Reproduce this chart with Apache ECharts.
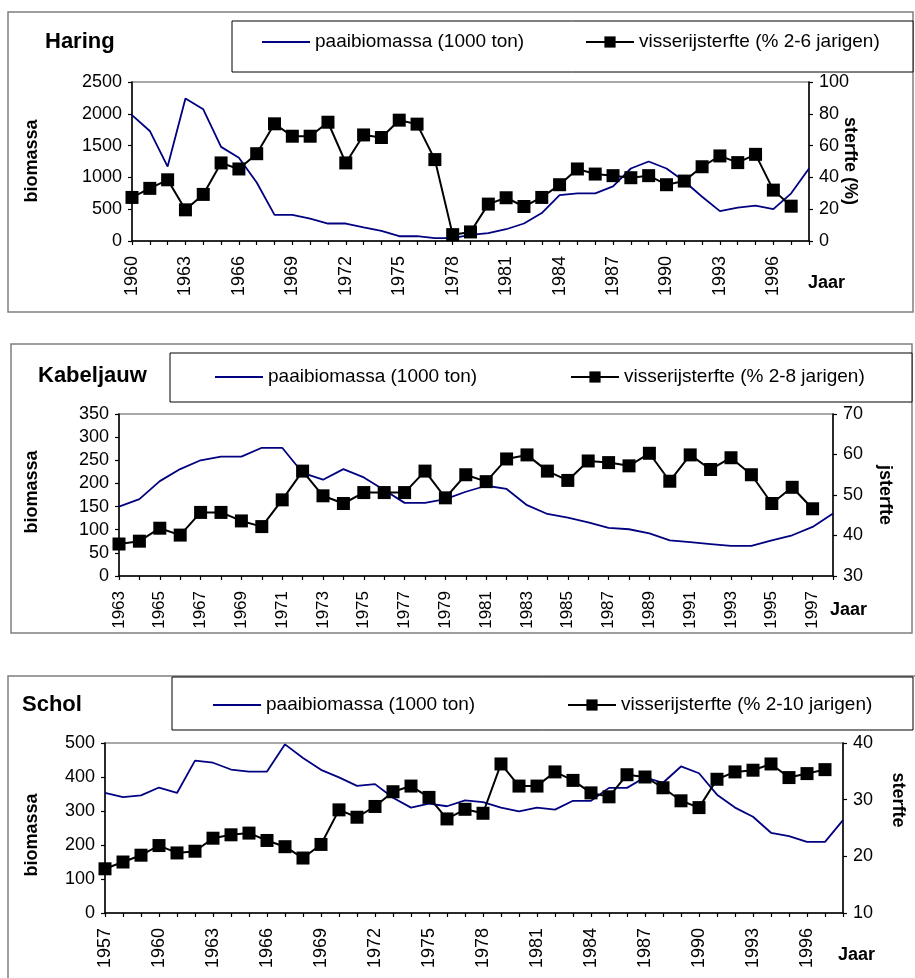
<!DOCTYPE html>
<html>
<head>
<meta charset="utf-8">
<script src="https://cdn.jsdelivr.net/npm/echarts@6/dist/echarts.min.js"></script>
<style>
  html, body { margin: 0; padding: 0; background: #fff; }
  #chart { width: 915px; height: 978px; }
</style>
</head>
<body>
<div id="chart"></div>
<script>
// Year ranges per species
const haringYears = [];
for (let y = 1960; y <= 1998; y++) haringYears.push(String(y));
const kabeljauwYears = [];
for (let y = 1963; y <= 1998; y++) kabeljauwYears.push(String(y));
const scholYears = [];
for (let y = 1957; y <= 1998; y++) scholYears.push(String(y));

// Haring: spawning stock biomass (1000 ton) and fishing mortality (%)
const haringBiomassa = [1980, 1730, 1170, 2240, 2070, 1480, 1310, 920, 410, 410,
  350, 275, 275, 215, 160, 75, 75, 45, 45, 95,
  125, 185, 275, 440, 720, 750, 750, 860, 1140, 1250,
  1140, 940, 695, 470, 525, 555, 500, 750, 1140];
const haringSterfte = [27.4, 33.1, 38.5, 19.6, 29.3, 49.1, 45.3, 54.9, 73.7, 65.9,
  65.9, 74.7, 49.1, 66.7, 65.1, 76.0, 73.5, 51.2, 4.0, 5.7,
  23.2, 27.2, 21.7, 27.4, 35.4, 45.3, 42.1, 41.1, 39.8, 41.1,
  35.4, 37.7, 46.7, 53.5, 49.3, 54.5, 32.0, 21.9, null];

// Kabeljauw
const kabeljauwBiomassa = [150, 166, 205, 231, 250, 258, 258, 277, 277, 223,
  208, 231, 213, 186, 158, 158, 166, 182, 195, 188,
  153, 134, 126, 116, 104, 101, 92, 77, 73, 69,
  65, 65, 77, 88, 106, 135];
const kabeljauwSterfte = [37.9, 38.6, 41.8, 40.1, 45.7, 45.7, 43.6, 42.2, 48.8, 55.9,
  49.8, 47.9, 50.6, 50.6, 50.6, 55.9, 49.3, 55.0, 53.3, 58.9,
  59.9, 55.9, 53.6, 58.4, 58.0, 57.2, 60.3, 53.4, 59.9, 56.3,
  59.2, 55.0, 47.9, 51.9, 46.6, null];

// Schol
const scholBiomassa = [353, 341, 346, 369, 353, 448, 442, 422, 416, 416,
  496, 456, 421, 399, 374, 379, 339, 310, 322, 314,
  331, 326, 310, 299, 310, 304, 330, 330, 368, 368,
  399, 383, 431, 411, 348, 310, 283, 236, 226, 209,
  209, 273];
const scholSterfte = [17.8, 19.0, 20.2, 21.9, 20.6, 20.9, 23.2, 23.8, 24.1, 22.8,
  21.7, 19.7, 22.1, 28.2, 26.9, 28.8, 31.4, 32.4, 30.4, 26.6,
  28.3, 27.6, 36.3, 32.4, 32.4, 34.9, 33.4, 31.2, 30.5, 34.4,
  34.0, 32.1, 29.8, 28.6, 33.6, 34.9, 35.2, 36.3, 33.9, 34.6,
  35.3, null];

const BIO_NAME = 'paaibiomassa (1000 ton)';
const FONT = '"Liberation Sans", Arial, sans-serif';
const NAVY = '#000080';

// Panel layout: frame, legend box, plot grid, label positions
const panels = [
  {
    title: 'Haring', titleX: 45, titleY: 42,
    frame: [8, 12, 905, 300], legendBox: [232, 21, 681, 51], legendY: 32,
    bioLegendX: 262, morLegendX: 585,
    grid: { left: 132, top: 82, width: 677, height: 159 },
    years: haringYears, bio: haringBiomassa, mor: haringSterfte,
    morName: 'visserijsterfte (% 2-6 jarigen)',
    left: { min: 0, max: 2500, interval: 500 },
    right: { min: 0, max: 100, interval: 20 },
    labelInterval: 2, xFont: 18,
    leftName: 'biomassa', leftNameX: 32, leftNameY: 161,
    rightName: 'sterfte (%)', rightNameX: 850, rightNameY: 161,
    jaarX: 808, jaarY: 283
  },
  {
    title: 'Kabeljauw', titleX: 38, titleY: 376,
    frame: [11, 344, 901, 289], legendBox: [170, 353, 742, 49], legendY: 367,
    bioLegendX: 215, morLegendX: 570,
    grid: { left: 119, top: 414, width: 714, height: 162 },
    years: kabeljauwYears, bio: kabeljauwBiomassa, mor: kabeljauwSterfte,
    morName: 'visserijsterfte (% 2-8 jarigen)',
    left: { min: 0, max: 350, interval: 50 },
    right: { min: 30, max: 70, interval: 10 },
    labelInterval: 1, xFont: 17,
    leftName: 'biomassa', leftNameX: 32, leftNameY: 492,
    rightName: 'jsterfte', rightNameX: 885, rightNameY: 495,
    jaarX: 830, jaarY: 610
  },
  {
    title: 'Schol', titleX: 22, titleY: 705,
    frame: [8, 676, 910, 320], legendBox: [172, 677, 741, 53], legendY: 695,
    bioLegendX: 213, morLegendX: 567,
    grid: { left: 105, top: 743, width: 738, height: 170 },
    years: scholYears, bio: scholBiomassa, mor: scholSterfte,
    morName: 'visserijsterfte (% 2-10 jarigen)',
    left: { min: 0, max: 500, interval: 100 },
    right: { min: 10, max: 40, interval: 10 },
    labelInterval: 2, xFont: 18,
    leftName: 'biomassa', leftNameX: 32, leftNameY: 835,
    rightName: 'sterfte', rightNameX: 898, rightNameY: 800,
    jaarX: 838, jaarY: 955
  }
];

const grid = [], xAxis = [], yAxis = [], series = [], legend = [], graphic = [];
const axisLine = { show: true, lineStyle: { color: '#000', width: 1.5 } };
const axisTick = { show: true, length: 4, lineStyle: { color: '#000', width: 1.2 } };
const plainNumber = v => String(v);

panels.forEach((p, i) => {
  grid.push(Object.assign({ show: true, borderColor: '#8c8c8c', borderWidth: 1.5,
    backgroundColor: 'transparent', containLabel: false }, p.grid));

  xAxis.push({
    type: 'category', gridIndex: i, data: p.years, boundaryGap: false,
    axisLine, axisTick: Object.assign({ interval: 0 }, axisTick),
    axisLabel: { rotate: 90, interval: p.labelInterval, margin: 15,
      color: '#000', fontSize: p.xFont, fontFamily: FONT },
    splitLine: { show: false }
  });

  yAxis.push({
    type: 'value', gridIndex: i, position: 'left',
    min: p.left.min, max: p.left.max, interval: p.left.interval,
    axisLine, axisTick,
    axisLabel: { color: '#000', fontSize: 18, fontFamily: FONT, margin: 10, formatter: plainNumber },
    splitLine: { show: false }
  });
  yAxis.push({
    type: 'value', gridIndex: i, position: 'right',
    min: p.right.min, max: p.right.max, interval: p.right.interval,
    axisLine, axisTick,
    axisLabel: { color: '#000', fontSize: 18, fontFamily: FONT, margin: 10, formatter: plainNumber },
    splitLine: { show: false }
  });

  series.push({
    name: BIO_NAME, type: 'line', xAxisIndex: i, yAxisIndex: 2 * i,
    data: p.bio, symbol: 'none', lineStyle: { color: NAVY, width: 1.8 },
    itemStyle: { color: NAVY }, z: 2, animation: false
  });
  series.push({
    name: p.morName, type: 'line', xAxisIndex: i, yAxisIndex: 2 * i + 1,
    data: p.mor, symbol: 'rect', symbolSize: 13, showAllSymbol: true,
    lineStyle: { color: '#000', width: 2 }, itemStyle: { color: '#000' },
    z: 3, animation: false
  });

  const legendText = { color: '#000', fontSize: 19, fontFamily: FONT, lineHeight: 20 };
  legend.push({ data: [{ name: BIO_NAME, icon: 'rect' }], left: p.bioLegendX, top: p.legendY,
    itemWidth: 48, itemHeight: 2, itemGap: 5, textStyle: legendText,
    selectedMode: false, padding: 0 });
  legend.push({ data: [p.morName], left: p.morLegendX, top: p.legendY,
    itemWidth: 48, itemHeight: 14, itemGap: 5, textStyle: legendText,
    selectedMode: false, padding: 0 });

  // Panel frame and legend box
  graphic.push({ type: 'rect', z: -10, silent: true,
    shape: { x: p.frame[0], y: p.frame[1], width: p.frame[2], height: p.frame[3] },
    style: { fill: 'none', stroke: '#7f7f7f', lineWidth: 1.5 } });
  graphic.push({ type: 'rect', z: -5, silent: true,
    shape: { x: p.legendBox[0], y: p.legendBox[1], width: p.legendBox[2], height: p.legendBox[3] },
    style: { fill: '#fff', stroke: '#000', lineWidth: 1 } });

  // Species title
  graphic.push({ type: 'text', x: p.titleX, y: p.titleY, silent: true,
    style: { text: p.title, font: 'bold 22px ' + FONT, fill: '#000',
      textAlign: 'left', textVerticalAlign: 'middle' } });
  // Axis names
  graphic.push({ type: 'text', x: p.leftNameX, y: p.leftNameY, rotation: Math.PI / 2, silent: true,
    style: { text: p.leftName, font: 'bold 18px ' + FONT, fill: '#000',
      textAlign: 'center', textVerticalAlign: 'middle' } });
  graphic.push({ type: 'text', x: p.rightNameX, y: p.rightNameY, rotation: -Math.PI / 2, silent: true,
    style: { text: p.rightName, font: 'bold 18px ' + FONT, fill: '#000',
      textAlign: 'center', textVerticalAlign: 'middle' } });
  graphic.push({ type: 'text', x: p.jaarX, y: p.jaarY, silent: true,
    style: { text: 'Jaar', font: 'bold 18px ' + FONT, fill: '#000',
      textAlign: 'left', textVerticalAlign: 'middle' } });
});

const chart = echarts.init(document.getElementById('chart'), null, { renderer: 'canvas' });
chart.setOption({
  animation: false,
  backgroundColor: '#fff',
  grid, xAxis, yAxis, series, legend, graphic
});
</script>
</body>
</html>
